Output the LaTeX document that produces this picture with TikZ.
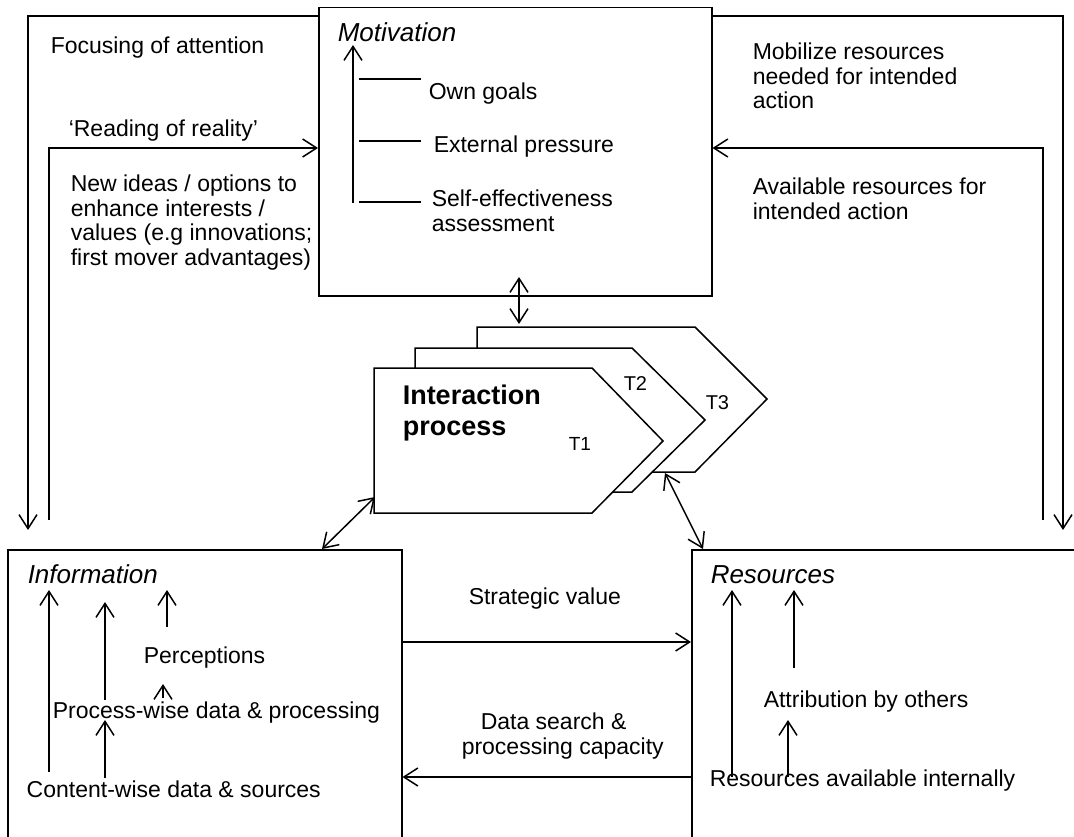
\documentclass[tikz,border=0pt]{standalone}
\usepackage{fontspec}
\setmainfont{Liberation Sans}
\usetikzlibrary{arrows.meta}
\begin{document}
\begin{tikzpicture}[x=1pt,y=-1pt,
  line width=1.5pt,
  barb/.tip={Straight Barb[length=14pt,width=18pt]},
  arr/.style={-barb},
  darr/.style={barb-barb},
  box/.style={draw, rectangle, inner sep=0pt, anchor=north west},
  txt/.style={inner sep=0pt, align=left, font=\fontsize{23}{24.5}\selectfont},
  head/.style={inner sep=0pt, anchor=base west, font=\fontsize{26}{30}\selectfont\itshape},
  tlabel/.style={inner sep=0pt, anchor=base west, font=\fontsize{20}{24}\selectfont},
  stage/.style={draw, fill=white, line join=miter},
]
\useasboundingbox (0,0) rectangle (1074,837);
\clip (0,0) rectangle (1074,837);

% the three main boxes (information and resources run past the lower edge)
\node[box, minimum width=393pt, minimum height=288pt] (mot) at (318,7) {};
\node[box, minimum width=394pt, minimum height=330pt] (info) at (7,549) {};
\node[box, minimum width=420pt, minimum height=330pt] (res) at (691,549) {};

% outer feedback loops
\coordinate (focusEnd) at (28,530);
\coordinate (readStart) at (49,520);
\coordinate (mobEnd) at (1063,530);
\coordinate (availStart) at (1043,520);
\draw[arr] ([yshift=-9pt]mot.north west) -| (focusEnd);
\draw[arr] (readStart) |- ([yshift=-141pt]mot.north west);
\draw[arr] ([yshift=-9pt]mot.north east) -| (mobEnd);
\draw[arr] (availStart) |- ([yshift=-141pt]mot.north east);

\node[txt, anchor=base west] (focus) at (50,54) {Focusing of attention};
\node[txt, anchor=base west] (reading) at (68,137) {‘Reading of reality’};
\node[txt, anchor=north west] (ideas) at (70,174.5)
  {New ideas / options to\\enhance interests /\\values (e.g innovations;\\first mover advantages)};
\node[txt, anchor=north west] (mobil) at (752,42.5)
  {Mobilize resources\\needed for intended\\action};
\node[txt, anchor=north west] (avail) at (752,177.2)
  {Available resources for\\intended action};

% motivation contents
\node[head] (motT) at (337,42) {Motivation};
\coordinate (mvb) at (353,203);
\coordinate (mvt) at (353,45);
\draw[arr] (mvb) -- (mvt);
\draw (359,79) -- (421,79);
\draw (359,141) -- (421,141);
\draw (359,202) -- (421,202);
\node[txt, anchor=base west] (goals) at (428,100) {Own goals};
\node[txt, anchor=base west] (press) at (433,153) {External pressure};
\node[txt, anchor=north west] (selfeff) at (431,189.5)
  {Self-effectiveness\\assessment};

% interaction process stages T3, T2, T1 (back to front)
\draw[stage] (477,327) -- (695,327) -- (767,399) -- (695,472) -- (477,472) -- cycle;
\draw[stage] (415,348) -- (632,348) -- (705,420) -- (632,492) -- (415,492) -- cycle;
\draw[stage] (374,368) -- (592,368) -- (663,441) -- (592,513) -- (374,513) -- cycle;
\node[inner sep=0pt, anchor=north west, align=left,
      font=\fontsize{27}{31}\selectfont\bfseries] (inter) at (402,384)
  {Interaction\\process};
\node[tlabel, font=\fontsize{19}{23}\selectfont] (t1) at (568,450) {T1};
\node[tlabel] (t2) at (623,390) {T2};
\node[tlabel] (t3) at (705,409) {T3};

\coordinate (motIn) at (519,277);
\coordinate (t3top) at (519,324);
\coordinate (t3bot) at (665,473);
\coordinate (t1left) at (375,497);
\draw[darr] (motIn) -- (t3top);
\draw[darr] (t1left) -- (322,549);
\draw[darr] (t3bot) -- (703,549);

% exchanges between information and resources
\coordinate (sv) at (0,642);
\coordinate (ds) at (0,777);
\draw[arr] (info.east |- sv) -- (res.west |- sv);
\draw[arr] (res.west |- ds) -- (info.east |- ds);
\node[txt, anchor=base west] (strat) at (468,604) {Strategic value};
\node[txt, anchor=north west] (search) at (461,712.3)
  {\hspace{19pt}Data search \&\\processing capacity};

% information contents
\node[head] (infoT) at (27,583) {Information};
\node[txt, anchor=base west] (perc) at (143,663) {Perceptions};
\node[txt, anchor=base west] (procw) at (52,718) {Process-wise data \& processing};
\node[txt, anchor=base west] (contw) at (26,797) {Content-wise data \& sources};
\draw[arr] (49,772) -- (49,590);
\draw[arr] (105,700) -- (105,602);
\draw[arr] (167,627) -- (167,590);
\draw[arr] (163,698) -- (163,684);
\draw[arr] (105,778) -- (105,720);

% resources contents
\node[head] (resT) at (710,583) {Resources};
\node[txt, anchor=base west] (attr) at (763,707) {Attribution by others};
\node[txt, anchor=base west] (resint) at (709,786) {Resources available internally};
\draw[arr] (732,777) -- (732,590);
\draw[arr] (794,668) -- (794,590);
\draw[arr] (788,777) -- (788,720);
\end{tikzpicture}
\end{document}
